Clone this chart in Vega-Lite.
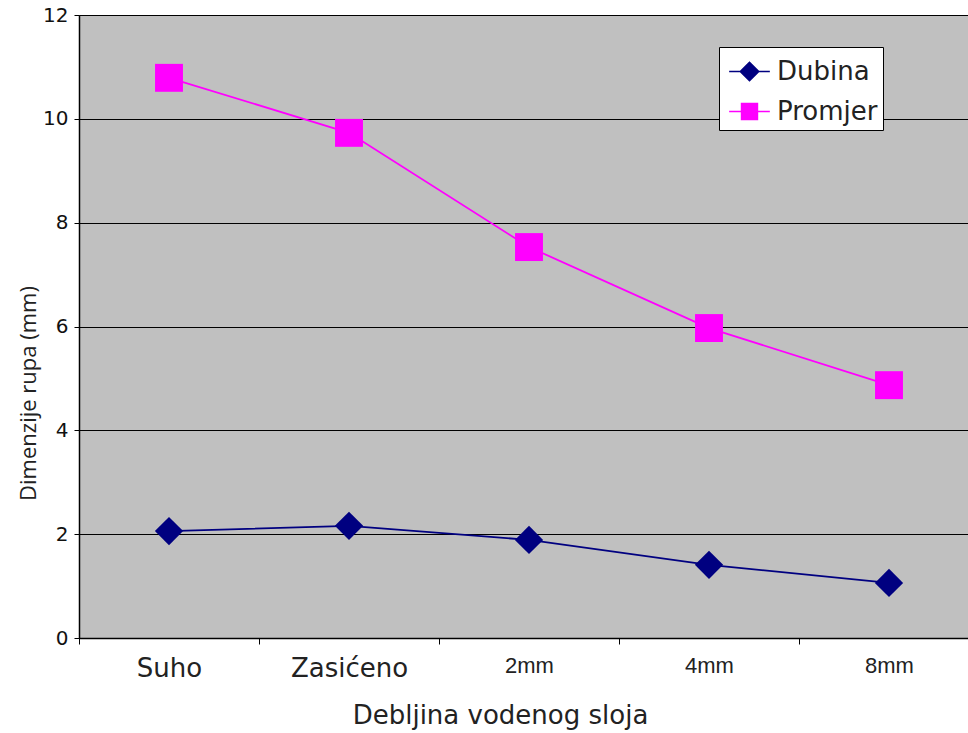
{
  "$schema": "https://vega.github.io/schema/vega-lite/v6.json",
  "width": 900,
  "height": 623,
  "autosize": {"type": "none"},
  "padding": {"left": 79, "top": 15, "right": 0, "bottom": 95},
  "background": "white",
  "config": {
    "view": {"fill": "#C0C0C0", "stroke": "#808080", "strokeWidth": 1},
    "font": "DejaVu Sans"
  },
  "data": {
    "values": [
      {"kategorija": "Suho", "serija": "Dubina", "vrijednost": 2.06},
      {"kategorija": "Zasićeno", "serija": "Dubina", "vrijednost": 2.16},
      {"kategorija": "2mm", "serija": "Dubina", "vrijednost": 1.89},
      {"kategorija": "4mm", "serija": "Dubina", "vrijednost": 1.41},
      {"kategorija": "8mm", "serija": "Dubina", "vrijednost": 1.06},
      {"kategorija": "Suho", "serija": "Promjer", "vrijednost": 10.79},
      {"kategorija": "Zasićeno", "serija": "Promjer", "vrijednost": 9.73},
      {"kategorija": "2mm", "serija": "Promjer", "vrijednost": 7.53},
      {"kategorija": "4mm", "serija": "Promjer", "vrijednost": 5.97},
      {"kategorija": "8mm", "serija": "Promjer", "vrijednost": 4.87}
    ]
  },
  "encoding": {
    "x": {
      "field": "kategorija",
      "type": "nominal",
      "sort": ["Suho", "Zasićeno", "2mm", "4mm", "8mm"],
      "scale": {"type": "band", "paddingInner": 0, "paddingOuter": 0},
      "axis": {
        "title": "Debljina vodenog sloja",
        "labelAngle": 0,
        "tickBand": "extent",
        "tickSize": 6,
        "tickColor": "black",
        "domainColor": "black",
        "domainWidth": 1.5,
        "labelFontSize": {"condition": {"test": "indexof(['2mm','4mm','8mm'], datum.value) >= 0", "value": 22}, "value": 26},
        "labelFont": {"condition": {"test": "indexof(['2mm','4mm','8mm'], datum.value) >= 0", "value": "Liberation Sans"}, "value": "DejaVu Sans"},
        "labelColor": "#222222",
        "labelPadding": 11,
        "titleFont": "DejaVu Sans",
        "titleFontSize": 26,
        "titleFontWeight": "normal",
        "titleColor": "#222222",
        "titleX": 421,
        "titleY": 77,
        "titleBaseline": "middle"
      }
    },
    "y": {
      "field": "vrijednost",
      "type": "quantitative",
      "scale": {"domain": [0, 12], "nice": false},
      "axis": {
        "title": "Dimenzije rupa (mm)",
        "values": [0, 2, 4, 6, 8, 10, 12],
        "grid": true,
        "gridColor": "black",
        "gridOpacity": 1,
        "gridWidth": 1,
        "domainColor": "black",
        "domainWidth": 1.5,
        "tickColor": "black",
        "tickSize": 5,
        "labelFont": "DejaVu Sans",
        "labelFontSize": 20,
        "labelColor": "#111111",
        "labelPadding": 6,
        "titleFont": "Open Sans",
        "titleFontSize": 22,
        "titleFontWeight": "normal",
        "titleColor": "#222222",
        "titleX": -51,
        "titleY": 378,
        "titleAngle": -90,
        "titleAlign": "center",
        "titleBaseline": "middle"
      }
    },
    "color": {
      "field": "serija",
      "type": "nominal",
      "scale": {"domain": ["Dubina", "Promjer"], "range": ["#000080", "#FF00FF"]},
      "legend": {
        "title": null,
        "orient": "none",
        "legendX": 640,
        "legendY": 32,
        "fillColor": "white",
        "strokeColor": "black",
        "padding": 5,
        "rowPadding": 7,
        "symbolSize": 1369,
        "symbolOffset": 6,
        "symbolStrokeWidth": 1.5,
        "labelFont": "DejaVu Sans",
        "labelFontSize": 26,
        "labelColor": "#222222",
        "labelOffset": 8,
        "encode": {
          "symbols": {
            "update": {
              "shape": {"signal": "datum.value === 'Dubina' ? 'M-1.1,0L1.1,0M-0.5,0L0,-0.5L0.5,0L0,0.5Z' : 'M-1.1,0L1.1,0M-0.43,-0.43L0.43,-0.43L0.43,0.43L-0.43,0.43Z'"},
              "stroke": {"signal": "datum.value === 'Dubina' ? '#000080' : '#FF00FF'"},
              "fill": {"signal": "datum.value === 'Dubina' ? '#000080' : '#FF00FF'"},
              "strokeWidth": {"value": 1.5}
            }
          }
        }
      }
    }
  },
  "layer": [
    {
      "mark": {"type": "line", "strokeWidth": 1.8}
    },
    {
      "transform": [{"filter": "datum.serija === 'Dubina'"}],
      "mark": {"type": "point", "filled": true, "opacity": 1, "size": 800, "shape": "diamond"}
    },
    {
      "transform": [{"filter": "datum.serija === 'Promjer'"}],
      "mark": {"type": "point", "filled": true, "opacity": 1, "size": 780, "shape": "square"}
    }
  ]
}
